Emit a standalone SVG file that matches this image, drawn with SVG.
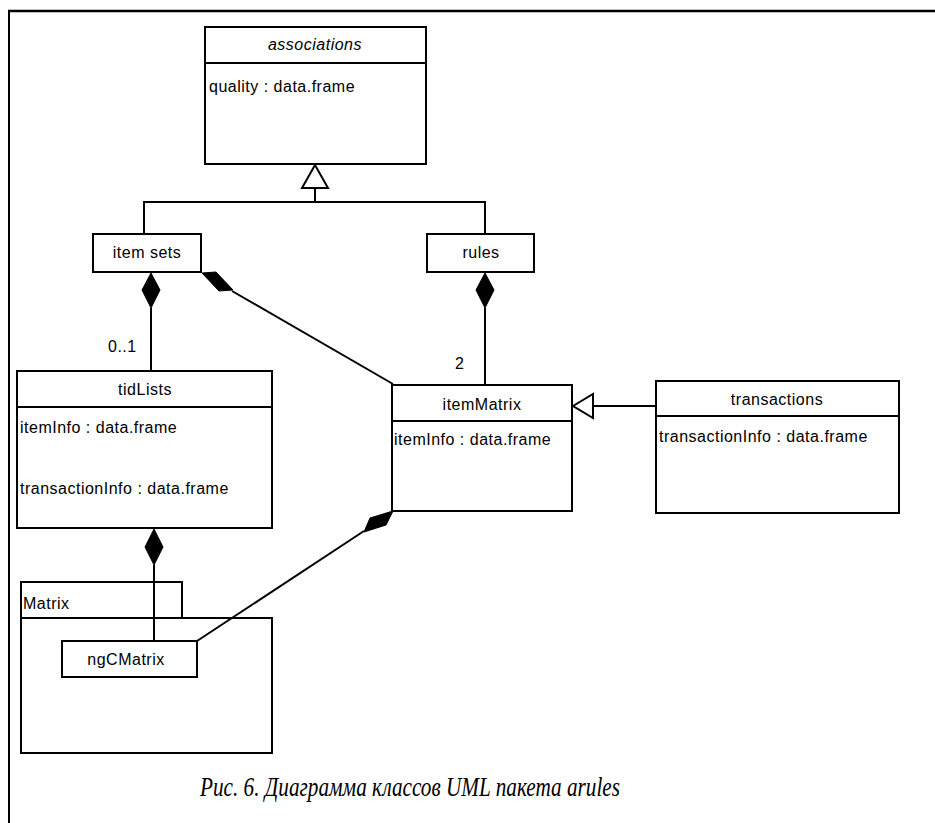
<svg xmlns="http://www.w3.org/2000/svg" width="935" height="823" viewBox="0 0 935 823">
  <style>
    .box { fill: #ffffff; stroke: #000000; stroke-width: 2; }
    .div { stroke: #000000; stroke-width: 2; }
    .lbl { font-family: "Liberation Sans", Arial, sans-serif; font-size: 16px; letter-spacing: 0.5px; fill: #000000; }
    .ttl { text-anchor: middle; }
    .it { font-style: italic; }
    .edge { fill: none; stroke: #000000; stroke-width: 2; }
    .comp { fill: #000000; stroke: #000000; stroke-width: 1; }
    .gen { fill: #ffffff; stroke: #000000; stroke-width: 2; }
    .cap { font-family: "Liberation Serif", "Times New Roman", serif; font-style: italic; font-size: 27px; fill: #000000; }
  </style>

  <rect width="935" height="823" fill="#ffffff"/>

  <!-- page frame -->
  <g id="frame">
    <line x1="8" y1="11" x2="935" y2="11" stroke="#000" stroke-width="2.5"/>
    <line x1="9" y1="10" x2="9" y2="823" stroke="#000" stroke-width="2"/>
  </g>

  <!-- associations -->
  <g id="associations">
    <rect class="box" x="205" y="27" width="221" height="137"/>
    <line class="div" x1="205" y1="63" x2="426" y2="63"/>
    <text class="lbl ttl it" x="315" y="50">associations</text>
    <text class="lbl" x="209" y="92">quality : data.frame</text>
  </g>

  <!-- itemsets -->
  <g id="itemsets">
    <rect class="box" x="93" y="234" width="108" height="38"/>
    <text class="lbl ttl" x="147" y="258">item sets</text>
  </g>

  <!-- rules -->
  <g id="rules">
    <rect class="box" x="427" y="234" width="107" height="38"/>
    <text class="lbl ttl" x="481" y="258">rules</text>
  </g>

  <!-- tidLists -->
  <g id="tidLists">
    <rect class="box" x="17" y="371" width="255" height="157"/>
    <line class="div" x1="17" y1="407" x2="272" y2="407"/>
    <text class="lbl ttl" x="145" y="395">tidLists</text>
    <text class="lbl" x="20" y="433">itemInfo : data.frame</text>
    <text class="lbl" x="20" y="494">transactionInfo : data.frame</text>
  </g>

  <!-- itemMatrix -->
  <g id="itemMatrix">
    <rect class="box" x="392" y="385" width="180" height="126"/>
    <line class="div" x1="392" y1="421" x2="572" y2="421"/>
    <text class="lbl ttl" x="482" y="410">itemMatrix</text>
    <text class="lbl" x="394" y="445">itemInfo : data.frame</text>
  </g>

  <!-- transactions -->
  <g id="transactions">
    <rect class="box" x="656" y="381" width="243" height="132"/>
    <line class="div" x1="656" y1="416" x2="899" y2="416"/>
    <text class="lbl ttl" x="777" y="405">transactions</text>
    <text class="lbl" x="659" y="442">transactionInfo : data.frame</text>
  </g>

  <!-- Matrix package -->
  <g id="Matrix">
    <rect class="box" x="21" y="582" width="161" height="36"/>
    <rect class="box" x="21" y="618" width="251" height="135"/>
    <text class="lbl" x="23" y="609">Matrix</text>
  </g>

  <!-- ngCMatrix -->
  <g id="ngCMatrix">
    <rect class="box" x="62" y="641" width="135" height="36"/>
    <text class="lbl ttl" x="126" y="665">ngCMatrix</text>
  </g>

  <!-- connectors (drawn last so they run across the package outline) -->
  <g id="connectors">
    <!-- generalization: itemsets/rules -> associations -->
    <polyline class="edge" points="144,234 144,202 485,202 485,234"/>
    <line class="edge" x1="315" y1="202" x2="315" y2="188"/>
    <polygon class="gen" points="315,165 302,188 328,188"/>

    <!-- itemsets <>- tidLists -->
    <line class="edge" x1="151" y1="308" x2="151" y2="371"/>
    <polygon class="comp" points="151,273 160,290 151,308 142,290"/>

    <!-- itemsets <>- itemMatrix -->
    <line class="edge" x1="232" y1="291" x2="393" y2="384"/>
    <polygon class="comp" points="202,273 216,272 233,290 219,291"/>

    <!-- rules <>- itemMatrix -->
    <line class="edge" x1="485" y1="308" x2="485" y2="385"/>
    <polygon class="comp" points="485,273 494,290 485,308 476,290"/>

    <!-- transactions -> itemMatrix generalization -->
    <line class="edge" x1="593" y1="406" x2="656" y2="406"/>
    <polygon class="gen" points="573,406 593,394 593,418"/>

    <!-- tidLists <>- ngCMatrix -->
    <line class="edge" x1="154" y1="565" x2="154" y2="641"/>
    <polygon class="comp" points="154,529 163,547 154,565 145,547"/>

    <!-- itemMatrix <>- ngCMatrix -->
    <line class="edge" x1="364" y1="531" x2="197" y2="641"/>
    <polygon class="comp" points="393,511 386,525 364,532 370,518"/>

    <!-- multiplicities -->
    <text class="lbl" x="108" y="352">0..1</text>
    <text class="lbl" x="455" y="369">2</text>
  </g>

  <!-- caption -->
  <text class="cap" x="200" y="796" textLength="420" lengthAdjust="spacingAndGlyphs">Рис. 6. Диаграмма классов UML пакета arules</text>
</svg>
